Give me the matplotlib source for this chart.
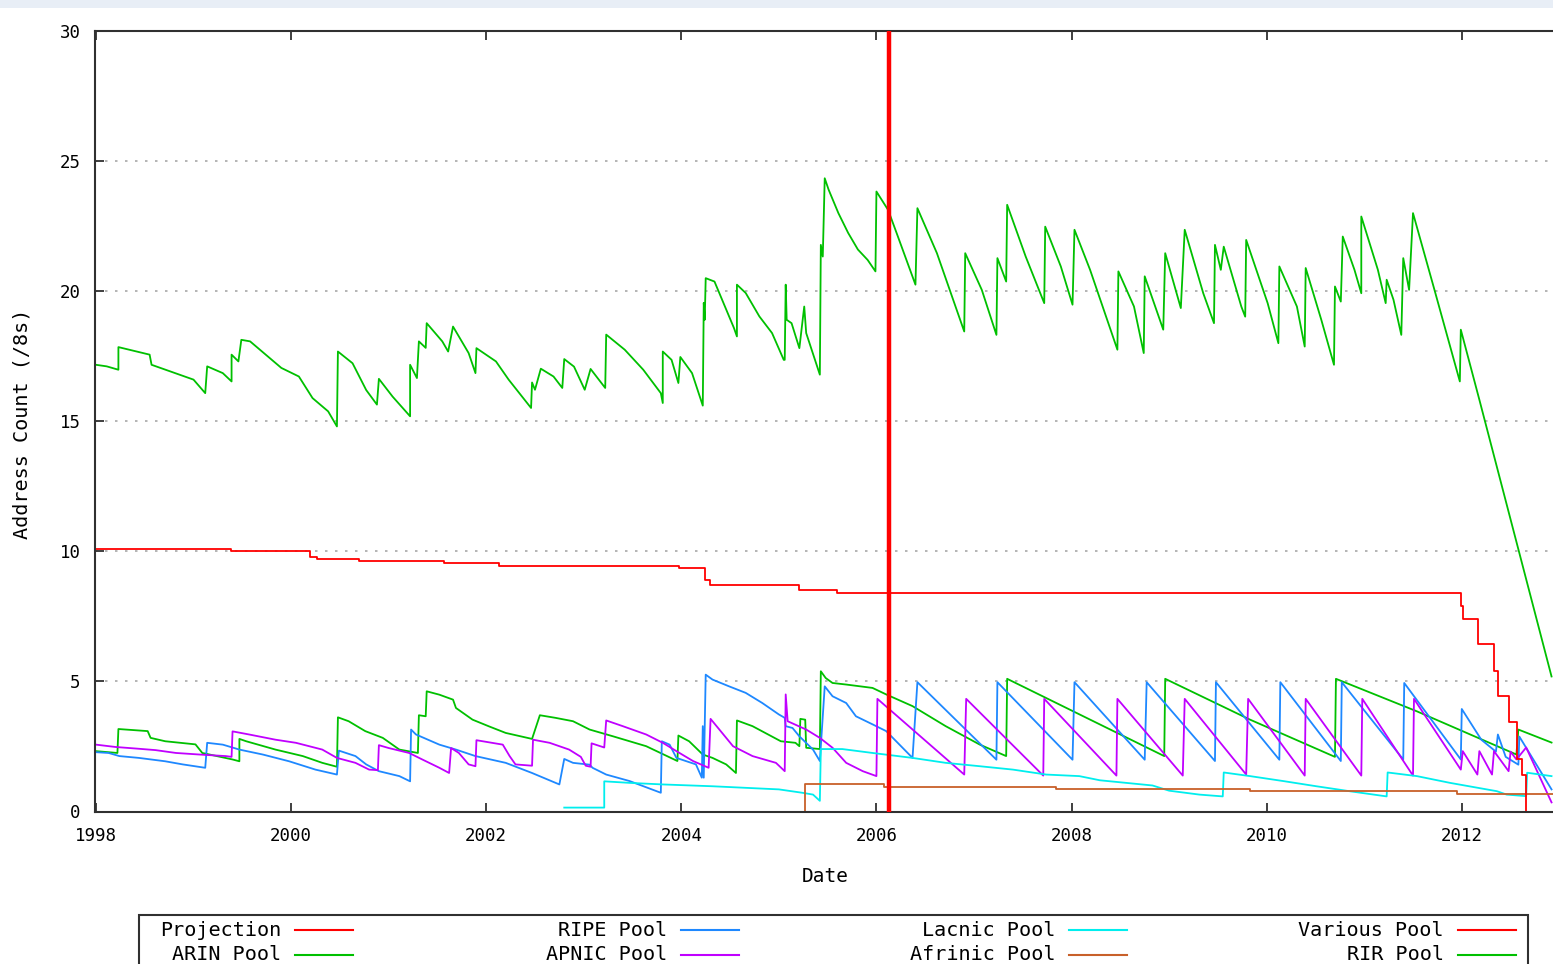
import matplotlib
matplotlib.use("Agg")
import matplotlib.pyplot as plt
from matplotlib.patches import Rectangle
from matplotlib.lines import Line2D

# (year, /8 count)
rir_pool = [
    (1998.00, 17.17), (1998.11, 17.11), (1998.23, 16.98), (1998.23, 17.85), (1998.55, 17.56),
    (1998.57, 17.17), (1999.00, 16.60), (1999.12, 16.08), (1999.14, 17.11), (1999.30, 16.85),
    (1999.39, 16.53), (1999.39, 17.56), (1999.46, 17.30), (1999.49, 18.13), (1999.58, 18.07),
    (1999.90, 17.05), (2000.08, 16.72), (2000.22, 15.89), (2000.38, 15.38), (2000.47, 14.80),
    (2000.48, 17.68), (2000.63, 17.23), (2000.77, 16.20), (2000.88, 15.64), (2000.90, 16.63),
    (2001.04, 15.95), (2001.22, 15.19), (2001.22, 17.17), (2001.29, 16.66), (2001.31, 18.07),
    (2001.38, 17.82), (2001.39, 18.77), (2001.55, 18.07), (2001.61, 17.68), (2001.66, 18.64),
    (2001.82, 17.62), (2001.89, 16.85), (2001.90, 17.81), (2002.10, 17.30), (2002.23, 16.60),
    (2002.46, 15.51), (2002.47, 16.49), (2002.50, 16.21), (2002.56, 17.02), (2002.69, 16.72),
    (2002.78, 16.28), (2002.80, 17.39), (2002.90, 17.10), (2003.01, 16.21), (2003.07, 17.01),
    (2003.22, 16.28), (2003.23, 18.33), (2003.42, 17.75), (2003.61, 16.98), (2003.79, 16.08),
    (2003.81, 15.70), (2003.81, 17.68), (2003.90, 17.36), (2003.97, 16.47), (2003.99, 17.47),
    (2004.11, 16.85), (2004.22, 15.60), (2004.23, 19.55), (2004.24, 18.90), (2004.25, 20.50),
    (2004.34, 20.37), (2004.54, 18.58), (2004.57, 18.26), (2004.57, 20.25), (2004.66, 19.93),
    (2004.80, 19.03), (2004.93, 18.39), (2005.05, 17.36), (2005.06, 17.36), (2005.07, 20.25),
    (2005.08, 18.90), (2005.13, 18.77), (2005.21, 17.81), (2005.26, 19.41), (2005.28, 18.39),
    (2005.42, 16.79), (2005.43, 21.78), (2005.45, 21.33), (2005.47, 24.34), (2005.51, 23.90),
    (2005.61, 23.00), (2005.71, 22.24), (2005.81, 21.60), (2005.91, 21.20), (2005.99, 20.76),
    (2006.00, 23.83), (2006.12, 23.12), (2006.22, 22.10), (2006.40, 20.25), (2006.42, 23.19),
    (2006.62, 21.46), (2006.90, 18.45), (2006.91, 21.46), (2007.08, 20.05), (2007.23, 18.32),
    (2007.24, 21.27), (2007.33, 20.37), (2007.34, 23.32), (2007.53, 21.33), (2007.72, 19.54),
    (2007.73, 22.48), (2007.89, 20.95), (2008.01, 19.48), (2008.03, 22.36), (2008.19, 20.82),
    (2008.47, 17.75), (2008.48, 20.76), (2008.64, 19.41), (2008.74, 17.62), (2008.75, 20.57),
    (2008.94, 18.52), (2008.96, 21.46), (2009.12, 19.35), (2009.16, 22.36), (2009.35, 19.92),
    (2009.46, 18.77), (2009.47, 21.78), (2009.53, 20.82), (2009.56, 21.71), (2009.74, 19.41),
    (2009.78, 19.02), (2009.79, 21.97), (2010.01, 19.54), (2010.12, 18.00), (2010.13, 20.95),
    (2010.31, 19.41), (2010.39, 17.87), (2010.40, 20.89), (2010.56, 18.90), (2010.69, 17.17),
    (2010.70, 20.18), (2010.76, 19.60), (2010.78, 22.10), (2010.90, 20.82), (2010.97, 19.92),
    (2010.97, 22.87), (2011.14, 20.82), (2011.22, 19.54), (2011.23, 20.44), (2011.30, 19.67),
    (2011.38, 18.32), (2011.40, 21.27), (2011.46, 20.05), (2011.50, 23.00), (2011.72, 20.05),
    (2011.98, 16.53), (2011.99, 18.52), (2012.18, 15.83), (2012.92, 5.19),
]

arin_pool = [
    (1998.00, 2.32), (1998.22, 2.25), (1998.23, 3.17), (1998.53, 3.09), (1998.56, 2.83),
    (1998.71, 2.70), (1999.02, 2.58), (1999.09, 2.25), (1999.40, 2.00), (1999.47, 1.93),
    (1999.47, 2.79), (1999.54, 2.70), (1999.84, 2.38), (2000.12, 2.13), (2000.32, 1.87),
    (2000.47, 1.72), (2000.48, 3.62), (2000.59, 3.47), (2000.76, 3.09), (2000.94, 2.83),
    (2001.11, 2.38), (2001.30, 2.25), (2001.31, 3.70), (2001.38, 3.66), (2001.39, 4.62),
    (2001.52, 4.49), (2001.66, 4.30), (2001.69, 3.98), (2001.86, 3.53), (2002.03, 3.27),
    (2002.20, 3.02), (2002.47, 2.79), (2002.55, 3.70), (2002.71, 3.60), (2002.89, 3.47),
    (2003.06, 3.15), (2003.30, 2.89), (2003.64, 2.51), (2003.96, 1.94), (2003.97, 2.92),
    (2004.08, 2.70), (2004.22, 2.19), (2004.32, 2.06), (2004.46, 1.81), (2004.56, 1.48),
    (2004.57, 3.50), (2004.73, 3.28), (2005.02, 2.70), (2005.17, 2.64), (2005.21, 2.51),
    (2005.22, 3.56), (2005.27, 3.53), (2005.28, 2.45), (2005.42, 2.40), (2005.43, 5.39),
    (2005.48, 5.13), (2005.55, 4.94), (2005.69, 4.88), (2005.96, 4.75), (2006.10, 4.50),
    (2006.37, 4.05), (2006.71, 3.28), (2007.06, 2.57), (2007.33, 2.13), (2007.34, 5.10),
    (2008.95, 2.13), (2008.96, 5.10), (2009.83, 3.53), (2010.70, 2.10), (2010.71, 5.10),
    (2011.54, 3.85), (2012.56, 2.19), (2012.58, 3.15), (2012.92, 2.65),
]

ripe_pool = [
    (1998.00, 2.28), (1998.13, 2.25), (1998.24, 2.13), (1998.44, 2.06), (1998.71, 1.93),
    (1998.89, 1.81), (1999.12, 1.68), (1999.14, 2.64), (1999.30, 2.57), (1999.47, 2.38),
    (1999.71, 2.19), (1999.98, 1.93), (2000.25, 1.61), (2000.47, 1.42), (2000.49, 2.34),
    (2000.66, 2.13), (2000.77, 1.81), (2000.90, 1.55), (2001.11, 1.36), (2001.22, 1.16),
    (2001.23, 3.15), (2001.28, 2.96), (2001.52, 2.57), (2001.69, 2.38), (2001.89, 2.13),
    (2002.20, 1.87), (2002.47, 1.48), (2002.75, 1.04), (2002.80, 2.02), (2002.89, 1.87),
    (2003.06, 1.80), (2003.09, 1.68), (2003.23, 1.42), (2003.47, 1.17), (2003.79, 0.72),
    (2003.80, 2.70), (2003.88, 2.57), (2003.95, 2.06), (2004.15, 1.81), (2004.21, 1.30),
    (2004.22, 3.28), (2004.23, 1.30), (2004.25, 5.26), (2004.32, 5.07), (2004.49, 4.81),
    (2004.66, 4.56), (2004.83, 4.17), (2005.00, 3.73), (2005.06, 3.60), (2005.07, 3.28),
    (2005.14, 3.21), (2005.21, 2.89), (2005.35, 2.38), (2005.42, 1.94), (2005.47, 4.81),
    (2005.55, 4.43), (2005.69, 4.17), (2005.79, 3.66), (2005.96, 3.35), (2006.10, 3.09),
    (2006.37, 2.06), (2006.42, 4.97), (2007.23, 1.99), (2007.24, 4.97), (2008.01, 1.99),
    (2008.03, 4.97), (2008.75, 1.99), (2008.77, 4.97), (2009.47, 1.94), (2009.48, 4.97),
    (2010.13, 1.99), (2010.14, 4.97), (2010.76, 1.94), (2010.77, 4.97), (2011.40, 2.00),
    (2011.41, 4.94), (2011.99, 2.00), (2012.00, 3.94), (2012.20, 2.76), (2012.35, 2.30),
    (2012.37, 2.96), (2012.45, 2.10), (2012.58, 1.80), (2012.59, 2.88), (2012.92, 0.85),
]

apnic_pool = [
    (1998.00, 2.57), (1998.20, 2.48), (1998.41, 2.42), (1998.61, 2.36), (1998.82, 2.25),
    (1999.06, 2.19), (1999.33, 2.13), (1999.39, 2.10), (1999.40, 3.08), (1999.57, 2.96),
    (1999.84, 2.76), (2000.05, 2.64), (2000.32, 2.38), (2000.47, 2.06), (2000.66, 1.87),
    (2000.80, 1.61), (2000.89, 1.59), (2000.90, 2.55), (2001.00, 2.44), (2001.21, 2.25),
    (2001.35, 1.99), (2001.52, 1.68), (2001.62, 1.48), (2001.64, 2.44), (2001.72, 2.25),
    (2001.82, 1.81), (2001.89, 1.74), (2001.90, 2.74), (2002.17, 2.57), (2002.24, 2.13),
    (2002.30, 1.81), (2002.47, 1.76), (2002.48, 2.76), (2002.65, 2.64), (2002.85, 2.38),
    (2002.97, 2.10), (2003.02, 1.76), (2003.07, 1.72), (2003.08, 2.62), (2003.21, 2.46),
    (2003.23, 3.50), (2003.40, 3.28), (2003.64, 2.96), (2003.81, 2.64), (2003.95, 2.32),
    (2004.12, 1.94), (2004.28, 1.68), (2004.30, 3.56), (2004.39, 3.15), (2004.53, 2.51),
    (2004.73, 2.13), (2004.97, 1.87), (2005.06, 1.55), (2005.07, 4.50), (2005.09, 3.47),
    (2005.28, 3.15), (2005.42, 2.83), (2005.55, 2.45), (2005.69, 1.87), (2005.86, 1.55),
    (2006.00, 1.36), (2006.01, 4.33), (2006.90, 1.42), (2006.92, 4.33), (2007.71, 1.38),
    (2007.72, 4.33), (2008.46, 1.38), (2008.47, 4.33), (2009.14, 1.38), (2009.16, 4.33),
    (2009.79, 1.42), (2009.81, 4.33), (2010.39, 1.38), (2010.40, 4.33), (2010.97, 1.38),
    (2010.98, 4.33), (2011.50, 1.38), (2011.51, 4.33), (2011.99, 1.61), (2012.01, 2.32),
    (2012.16, 1.42), (2012.18, 2.32), (2012.31, 1.42), (2012.33, 2.32), (2012.48, 1.55),
    (2012.50, 2.30), (2012.56, 2.00), (2012.66, 2.46), (2012.92, 0.35),
]

lacnic_pool = [
    (2002.80, 0.15), (2003.21, 0.15), (2003.21, 1.16), (2003.47, 1.10), (2003.81, 1.04),
    (2004.32, 0.97), (2004.66, 0.91), (2005.00, 0.85), (2005.24, 0.72), (2005.35, 0.65),
    (2005.42, 0.41), (2005.43, 2.40), (2005.65, 2.40), (2005.96, 2.25), (2006.37, 2.06),
    (2006.71, 1.87), (2007.06, 1.74), (2007.40, 1.61), (2007.74, 1.42), (2008.08, 1.36),
    (2008.29, 1.20), (2008.83, 1.00), (2009.00, 0.80), (2009.31, 0.65), (2009.55, 0.58),
    (2009.56, 1.50), (2009.83, 1.36), (2010.17, 1.17), (2010.51, 0.97), (2010.85, 0.78),
    (2011.23, 0.58), (2011.24, 1.50), (2011.54, 1.36), (2011.88, 1.10), (2012.36, 0.78),
    (2012.46, 0.65), (2012.66, 0.59), (2012.67, 1.49), (2012.92, 1.36),
]

afrinic_years = [2005.26, 2005.27, 2006.08, 2007.84, 2009.83, 2011.95, 2012.95]
afrinic_values = [0.0, 1.04, 0.95, 0.87, 0.78, 0.69, 0.69]

various_years = [1998.00, 1999.38, 2000.19, 2000.27, 2000.70, 2001.57, 2002.13, 2003.98,
                 2004.24, 2004.29, 2005.21, 2005.60, 2011.99, 2012.01, 2012.17, 2012.33,
                 2012.37, 2012.48, 2012.57, 2012.62, 2012.66, 2012.67]
various_values = [10.10, 10.03, 9.80, 9.72, 9.64, 9.57, 9.45, 9.37,
                  8.91, 8.72, 8.53, 8.38, 7.90, 7.40, 6.42, 5.39,
                  4.43, 3.43, 2.00, 1.42, -0.5, -0.5]

projection_date = 2006.13

year_ticks = [1998, 2000, 2002, 2004, 2006, 2008, 2010, 2012]
count_ticks = [0, 5, 10, 15, 20, 25, 30]
grid_levels = [5, 10, 15, 20, 25]

legend_entries = [
    ("Projection", "#ff0000"), ("ARIN Pool", "#00c000"),
    ("RIPE Pool", "#1e88ff"), ("APNIC Pool", "#c000ff"),
    ("Lacnic Pool", "#00eeee"), ("Afrinic Pool", "#c8602a"),
    ("Various Pool", "#ff0000"), ("RIR Pool", "#00c000"),
]
colors = dict(legend_entries)

W, H = 1553, 964
fig = plt.figure(figsize=(W / 100, H / 100), dpi=100)


def fx(px):
    return px / W


def fy(py):
    return 1 - py / H


# light strip at the very top of the screenshot
fig.add_artist(Rectangle((0, fy(8)), 1, 8 / H, transform=fig.transFigure,
                         facecolor="#e8eef6", edgecolor="none"))

ax = fig.add_axes([fx(94.5), fy(811.5), fx(1553) - fx(94.5), fy(31) - fy(811.5)])
ax.set_xlim(1997.985, 2012.935)
ax.set_ylim(0, 30)

for g in grid_levels:
    ax.axhline(g, color="#a8a8a8", lw=1.2, ls=(0, (1.5, 4.5)), zorder=0.5)

lw = 1.3
for series, name in [(arin_pool, "ARIN Pool"), (ripe_pool, "RIPE Pool"),
                     (apnic_pool, "APNIC Pool"), (lacnic_pool, "Lacnic Pool")]:
    xs, ys = zip(*series)
    ax.plot(xs, ys, color=colors[name], lw=lw)

ax.plot(afrinic_years, afrinic_values, color=colors["Afrinic Pool"], lw=lw,
        drawstyle="steps-post")
ax.plot(various_years, various_values, color=colors["Various Pool"], lw=lw,
        drawstyle="steps-post")
xs, ys = zip(*rir_pool)
ax.plot(xs, ys, color=colors["RIR Pool"], lw=lw)
ax.axvline(projection_date, color=colors["Projection"], lw=3.2, zorder=5)

ax.set_xticks(year_ticks)
ax.set_xticklabels([str(y) for y in year_ticks])
ax.set_yticks(count_ticks)
ax.tick_params(direction="in", length=6.5, width=1.3, color="#303030",
               top=True, right=False, labelsize=12.5)
ax.tick_params(axis="x", pad=11)
ax.tick_params(axis="y", pad=10)
for lab in ax.get_xticklabels() + ax.get_yticklabels():
    lab.set_family("DejaVu Sans Mono")
for side in ["left", "bottom", "top"]:
    ax.spines[side].set_color("#303030")
    ax.spines[side].set_linewidth(1.5)
ax.spines["right"].set_visible(False)

fig.text(fx(22), fy(424), "Address Count (/8s)", rotation=90, ha="center", va="center",
         family="DejaVu Sans Mono", fontsize=14.5)
fig.text(fx(825), fy(877), "Date", ha="center", va="center",
         family="DejaVu Sans Mono", fontsize=14)

# legend box, cut off by the bottom edge like the screenshot
fig.add_artist(Rectangle((fx(139), fy(990)), fx(1528) - fx(139), fy(915) - fy(990),
                         transform=fig.transFigure, facecolor="white",
                         edgecolor="#303030", lw=1.5))
text_right = [281, 667, 1055, 1444]
row_y = [930, 955]
for i, (label, color) in enumerate(legend_entries):
    col, row = i // 2, i % 2
    tx = text_right[col]
    ty = row_y[row]
    fig.text(fx(tx), fy(ty), label, ha="right", va="center",
             family="DejaVu Sans Mono", fontsize=14.5)
    fig.add_artist(Line2D([fx(tx + 14), fx(tx + 72)], [fy(ty), fy(ty)],
                          transform=fig.transFigure, color=color, lw=1.5))

fig.savefig("out.png", dpi=100)
